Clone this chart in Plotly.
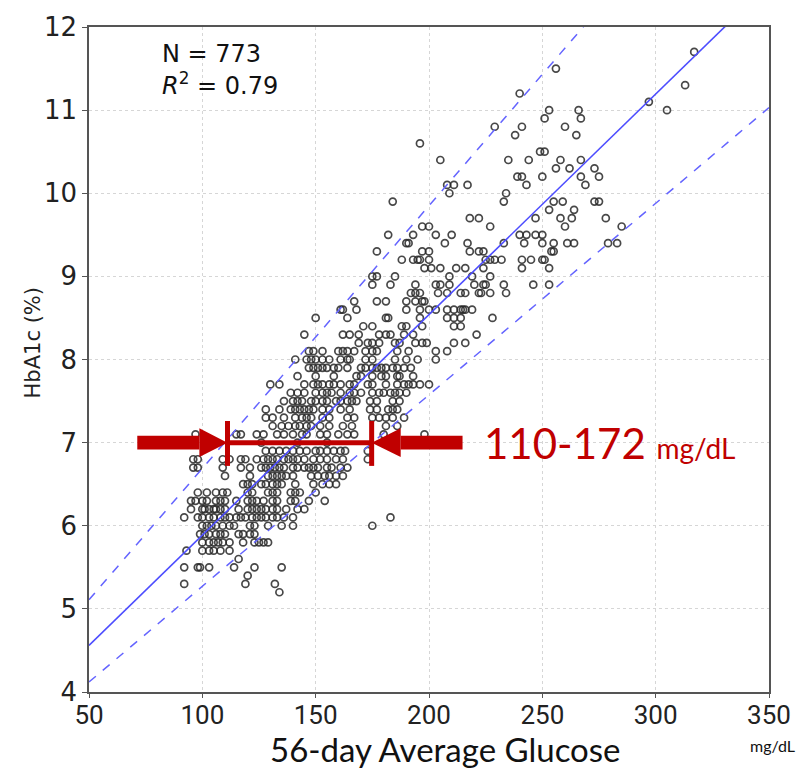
import plotly.graph_objects as go

# ---------------- data ----------------
a1c_levels = [11.7, 11.5, 11.3, 11.2, 11.1, 11.0, 10.9, 10.8, 10.7, 10.6, 10.5, 10.4, 10.3, 10.2, 10.1, 10.0,
              9.9, 9.8, 9.7, 9.6, 9.5, 9.4, 9.3, 9.2, 9.1, 9.0,
              8.9, 8.8, 8.7, 8.6, 8.5, 8.4, 8.3, 8.2, 8.1, 8.0,
              7.9, 7.8, 7.7, 7.6, 7.5, 7.4, 7.3, 7.2, 7.1, 7.0,
              6.9, 6.8, 6.7, 6.6, 6.5, 6.4, 6.3, 6.2, 6.1, 6.0,
              5.9, 5.8, 5.7, 5.6, 5.5, 5.4, 5.3, 5.2]

glucose_rows = [
    [317], [256], [313], [240], [297], [253, 266, 305], [251, 267], [229, 241, 260], [238, 265], [196],
    [249, 251], [205, 235, 244, 258, 267], [256, 262, 273], [239, 241, 250, 267, 275],
    [208, 211, 217, 243, 269], [209, 234],
    [184, 233, 255, 259, 273, 275],
    [253, 264],
    [218, 222, 247, 258, 263, 278],
    [197, 200, 227, 260, 285],
    [182, 193, 203, 210, 240, 243, 247, 250],
    [190, 191, 207, 217, 233, 242, 250, 255, 261, 264, 279, 283],
    [177, 197, 200, 218, 222, 224, 254, 255],
    [188, 193, 195, 196, 200, 225, 227, 229, 232, 241, 245, 250, 251],
    [198, 201, 205, 212, 216, 224, 241, 253],
    [175, 177, 185, 209, 219, 227],
    [175, 183, 194, 203, 205, 209, 220, 224, 225, 233, 246, 253],
    [192, 194, 196, 204, 208, 214, 216, 222, 223, 227, 234],
    [167, 177, 181, 190, 194, 197, 198],
    [161, 162, 168, 190, 196, 200, 203, 208, 211, 214, 215, 216, 219],
    [150, 164, 181, 182, 196, 208, 211, 214, 228],
    [171, 175, 188, 190, 197, 211, 214],
    [145, 162, 165, 169, 178, 181, 183, 189, 193, 221],
    [169, 173, 175, 178, 185, 187, 194, 197, 199, 211, 216],
    [147, 149, 153, 160, 162, 164, 167, 172, 175, 177, 186, 191, 203, 208],
    [141, 146, 148, 150, 153, 156, 161, 164, 165, 172, 175, 185, 190, 195, 203],
    [147, 149, 151, 153, 155, 158, 160, 164, 170, 172, 175, 177, 179, 181, 184, 186, 189, 192],
    [142, 150, 158, 168, 170, 175, 179, 181, 186, 187, 193],
    [130, 134, 145, 149, 151, 153, 156, 158, 161, 165, 167, 173, 175, 181, 186, 189, 191, 193, 196, 200],
    [139, 142, 145, 150, 153, 155, 157, 161, 165, 167, 170, 175, 178, 180, 183, 185, 187, 190],
    [136, 140, 142, 144, 148, 150, 153, 155, 159, 161, 164, 166, 168, 174, 177, 184, 187],
    [128, 134, 139, 141, 143, 145, 147, 149, 153, 156, 161, 165, 174, 177, 182, 184, 186],
    [128, 131, 136, 141, 144, 146, 148, 153, 156, 164, 167, 175, 178, 181, 184, 189],
    [131, 135, 138, 141, 143, 146, 148, 152, 156, 162, 166, 181, 186],
    [97, 115, 117, 124, 127, 133, 136, 140, 144, 146, 152, 155, 160, 164, 167, 180, 198],
    [126, 142, 155],
    [128, 131, 134, 137, 140, 143, 146, 150, 152, 155, 158, 161, 163, 173],
    [96, 98, 109, 112, 117, 119, 124, 127, 129, 131, 133, 136, 138, 140, 142, 145, 149, 152, 155, 159, 162, 173],
    [96, 98, 109, 117, 121, 126, 128, 130, 132, 134, 136, 140, 142, 145, 147, 149, 151, 155, 157, 161, 164],
    [110, 121, 129, 131, 133, 135, 137, 140, 148, 151, 154, 156, 159, 162],
    [118, 120, 122, 126, 128, 131, 133, 135, 141, 149, 153, 156, 159],
    [98, 102, 106, 109, 111, 120, 122, 129, 131, 133, 139, 141, 143, 150],
    [95, 97, 100, 102, 106, 108, 110, 115, 120, 122, 124, 127, 131, 133, 139, 141, 147, 154],
    [95, 100, 101, 103, 105, 106, 108, 110, 116, 120, 122, 124, 126, 128, 131, 133, 137, 142, 145],
    [92, 98, 100, 103, 105, 108, 110, 112, 115, 117, 119, 122, 124, 126, 128, 131, 133, 136, 140, 183],
    [100, 102, 104, 106, 109, 112, 114, 121, 123, 129, 135, 140, 175],
    [99, 101, 103, 106, 108, 110, 116, 118, 121, 123],
    [100, 103, 105, 107, 109, 112, 118, 123, 125, 127, 129],
    [93, 100, 103, 105, 108, 112],
    [116],
    [92, 98, 99, 103, 114, 123, 135],
    [120],
    [92, 119, 132],
    [134],
]

x_ticks = [50, 100, 150, 200, 250, 300, 350]
y_ticks = [4, 5, 6, 7, 8, 9, 10, 11, 12]

# regression line and band, values at the two x-axis ends
line_x = [50, 350]
fit_y = [4.56, 12.52]
upper_y = [5.11, 14.59]
lower_y = [4.12, 11.03]

n_label = "N = 773"
r2_value = 0.79
target_a1c = 7.0
range_text = "110-172"
bracket_x = [111.1, 174.7]
arrow_tail_x = [71.3, 214.8]
arrow_head_base_x = [98.7, 187.5]

# ---------------- build ----------------
xs, ys = [], []
for lvl, row in zip(a1c_levels, glucose_rows):
    for g in row:
        xs.append(g)
        ys.append(lvl)

RED = "#c00000"
BLUE = "#4d4dff"
MARK = "rgba(40,40,40,0.85)"

fig = go.Figure()
fig.add_trace(go.Scatter(
    x=xs, y=ys, mode="markers",
    marker=dict(symbol="circle-open", size=7, color=MARK, line=dict(width=1.7, color=MARK)),
    hoverinfo="x+y", showlegend=False))
fig.add_trace(go.Scatter(x=line_x, y=fit_y, mode="lines",
                         line=dict(color=BLUE, width=1.6), showlegend=False))
for yy in (upper_y, lower_y):
    fig.add_trace(go.Scatter(x=line_x, y=yy, mode="lines",
                             line=dict(color="#6464ff", width=1.5, dash="dash"), showlegend=False))

shapes = []
shaft_half = 0.083
head_half = 0.172
tick_lo, tick_hi = 6.72, 7.26
for tail, base in zip(arrow_tail_x, arrow_head_base_x):
    shapes.append(dict(type="rect", xref="x", yref="y", x0=tail, x1=base,
                       y0=target_a1c - shaft_half, y1=target_a1c + shaft_half,
                       fillcolor=RED, line=dict(width=0)))
for base, tip in zip(arrow_head_base_x, bracket_x):
    path = (f"M {base},{target_a1c - head_half} L {tip},{target_a1c} "
            f"L {base},{target_a1c + head_half} Z")
    shapes.append(dict(type="path", xref="x", yref="y", path=path,
                       fillcolor=RED, line=dict(width=0)))
shapes.append(dict(type="line", xref="x", yref="y", x0=bracket_x[0], x1=bracket_x[1],
                   y0=target_a1c, y1=target_a1c, line=dict(color=RED, width=5)))
for bx in bracket_x:
    shapes.append(dict(type="line", xref="x", yref="y", x0=bx, x1=bx,
                       y0=tick_lo, y1=tick_hi, line=dict(color=RED, width=5)))

annotations = [
    dict(text=n_label, x=81.3, y=11.67, xref="x", yref="y", xanchor="left", yanchor="middle",
         showarrow=False, font=dict(family="DejaVu Sans", size=24, color="#111")),
    dict(text=f"<i>R</i><sup>2</sup> = {r2_value}", x=81.3, y=11.31, xref="x", yref="y",
         xanchor="left", yanchor="middle", showarrow=False,
         font=dict(family="DejaVu Sans", size=24, color="#111")),
    dict(text=f"{range_text} <span style='font-size:28px'>mg/dL</span>", x=223.5, y=target_a1c,
         xref="x", yref="y", xanchor="left", yanchor="middle", showarrow=False,
         font=dict(family="Lato", size=42, color=RED)),
    dict(text="56-day Average Glucose", x=0.524, y=-0.085, xref="paper", yref="paper",
         xanchor="center", yanchor="middle", showarrow=False,
         font=dict(family="Lato", size=33, color="#111")),
    dict(text="mg/dL", x=1.005, y=-0.08, xref="paper", yref="paper",
         xanchor="center", yanchor="middle", showarrow=False,
         font=dict(family="Lato", size=16, color="#111")),
    dict(text="HbA1c (%)", x=-0.083, y=0.525, xref="paper", yref="paper", textangle=-90,
         xanchor="center", yanchor="middle", showarrow=False,
         font=dict(family="DejaVu Sans", size=21, color="#222")),
]

fig.update_layout(
    width=804, height=772,
    margin=dict(l=89, r=35, t=16, b=80),
    paper_bgcolor="white", plot_bgcolor="white",
    shapes=shapes, annotations=annotations,
    xaxis=dict(range=[50, 350], tickvals=x_ticks, ticktext=[str(v) for v in x_ticks],
               showgrid=True, gridcolor="#d6d6d6", griddash="dot", gridwidth=1,
               showline=True, linecolor="#555", linewidth=1.5, mirror=True,
               ticks="outside", ticklen=4, tickcolor="#555", zeroline=False,
               ticklabelstandoff=-5,
               tickfont=dict(family="Roboto", size=26, color="#222")),
    yaxis=dict(range=[4, 12], tickvals=y_ticks, ticktext=[str(v) for v in y_ticks],
               showgrid=True, gridcolor="#d6d6d6", griddash="dot", gridwidth=1,
               showline=True, linecolor="#555", linewidth=1.5, mirror=True,
               ticks="outside", ticklen=5, tickcolor="#555", zeroline=False,
               tickfont=dict(family="DejaVu Sans", size=26, color="#222")),
)

fig.write_html("out.html")
